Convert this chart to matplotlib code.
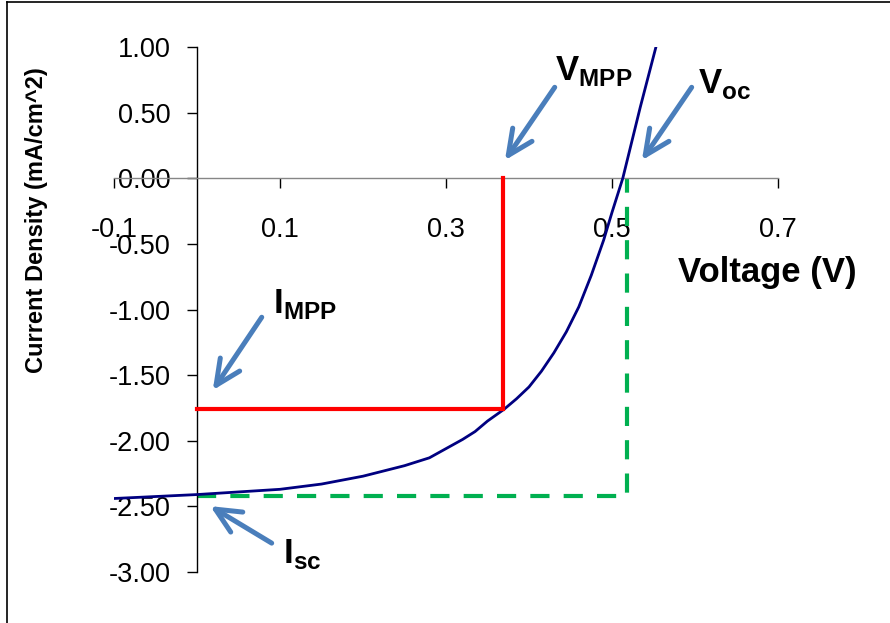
import matplotlib
matplotlib.use("Agg")
import matplotlib.pyplot as plt
from matplotlib.lines import Line2D

plt.rcParams["font.family"] = ["Liberation Sans", "DejaVu Sans"]
plt.rcParams["mathtext.fontset"] = "custom"
plt.rcParams["mathtext.rm"] = "Liberation Sans"
plt.rcParams["mathtext.bf"] = "Liberation Sans:bold"

# J-V curve
voltage = [-0.10, 0.00, 0.05, 0.10, 0.15, 0.20, 0.25, 0.28, 0.30, 0.32, 0.335,
           0.35, 0.37, 0.385, 0.40, 0.415, 0.43, 0.445, 0.46, 0.475, 0.49,
           0.50, 0.513, 0.534, 0.555]
current = [-2.44, -2.41, -2.39, -2.37, -2.33, -2.27, -2.19, -2.13, -2.06, -1.99, -1.93,
           -1.85, -1.76, -1.68, -1.59, -1.47, -1.33, -1.17, -0.98, -0.74, -0.47,
           -0.26, 0.00, 0.54, 1.05]

v_mpp, i_mpp = 0.369, -1.76
v_oc, i_sc = 0.518, -2.42

x_ticks = [-0.1, 0.1, 0.3, 0.5, 0.7]
y_ticks = [1.0, 0.5, 0.0, -0.5, -1.0, -1.5, -2.0, -2.5, -3.0]

arrow_blue = "#4A7EBB"

fig = plt.figure(figsize=(8.9, 6.23), dpi=100)
ax = fig.add_axes([114 / 890, 1 - 572 / 623, (778 - 114) / 890, (572 - 47) / 623])

ax.plot(voltage, current, color="#000080", lw=2.0, zorder=3)
ax.plot([0, v_mpp, v_mpp], [i_mpp, i_mpp, 0], color="#FF0000", lw=3.0,
        solid_joinstyle="miter", zorder=4)
ax.plot([0, v_oc, v_oc], [i_sc, i_sc, 0], color="#00B050", lw=3.0,
        dashes=(4.6, 3.4), zorder=2)

ax.set_xlim(-0.1, 0.7)
ax.set_ylim(-3.0, 1.0)
ax.set_xticks(x_ticks)
ax.set_yticks(y_ticks)
ax.set_xticklabels([f"{t:.1f}" for t in x_ticks])
ax.set_yticklabels([f"{t:.2f}" for t in y_ticks])

for side in ["top", "right"]:
    ax.spines[side].set_visible(False)
ax.spines["left"].set_position(("data", 0))
ax.spines["bottom"].set_position(("data", 0))
ax.spines["bottom"].set_color("#868686")
ax.spines["left"].set_color("black")
ax.spines["left"].set_linewidth(1.0)
ax.spines["bottom"].set_linewidth(1.0)

ax.tick_params(axis="x", direction="out", length=7, width=1, pad=21,
               labelsize=19.5, colors="black")
ax.tick_params(axis="y", direction="out", length=7, width=1, pad=12,
               labelsize=19.5, colors="black")
ax.patch.set_alpha(0)

fig.text(767 / 890, 1 - 272 / 623, "Voltage (V)", fontsize=25, fontweight="bold",
         ha="center", va="center")
fig.text(37 / 890, 1 - 220 / 623, "Current Density (mA/cm^2)", fontsize=17,
         fontweight="bold", rotation=90, ha="center", va="center")

# annotation arrows and labels
arrows = [
    ((0.431, 0.693), (0.371, 0.137)),
    ((0.596, 0.693), (0.536, 0.137)),
    ((0.078, -1.059), (0.019, -1.615)),
    ((0.090, -2.780), (0.016, -2.498)),
]
for tail, tip in arrows:
    ax.annotate("", xy=tip, xytext=tail,
                arrowprops=dict(arrowstyle="->, head_length=0.9, head_width=0.42",
                                color=arrow_blue, lw=3.6, mutation_scale=20,
                                shrinkA=0, shrinkB=0),
                annotation_clip=False)

labels = [
    (0.431, 0.746, r"$\mathbf{V}_{\mathbf{MPP}}$"),
    (0.604, 0.647, r"$\mathbf{V}_{\mathbf{oc}}$"),
    (0.092, -1.028, r"$\mathbf{I}_{\mathbf{MPP}}$"),
    (0.104, -2.932, r"$\mathbf{I}_{\mathbf{sc}}$"),
]
for x, y, s in labels:
    ax.text(x, y, s, fontsize=25, ha="left", va="baseline", clip_on=False)

# chart border (left and top edges are visible)
fig.add_artist(Line2D([7 / 890, 7 / 890], [0, 1 - 1.5 / 623], color="black", lw=1.2))
fig.add_artist(Line2D([7 / 890, 1], [1 - 1.5 / 623, 1 - 1.5 / 623], color="black", lw=1.2))

fig.savefig("out.png", dpi=100)
